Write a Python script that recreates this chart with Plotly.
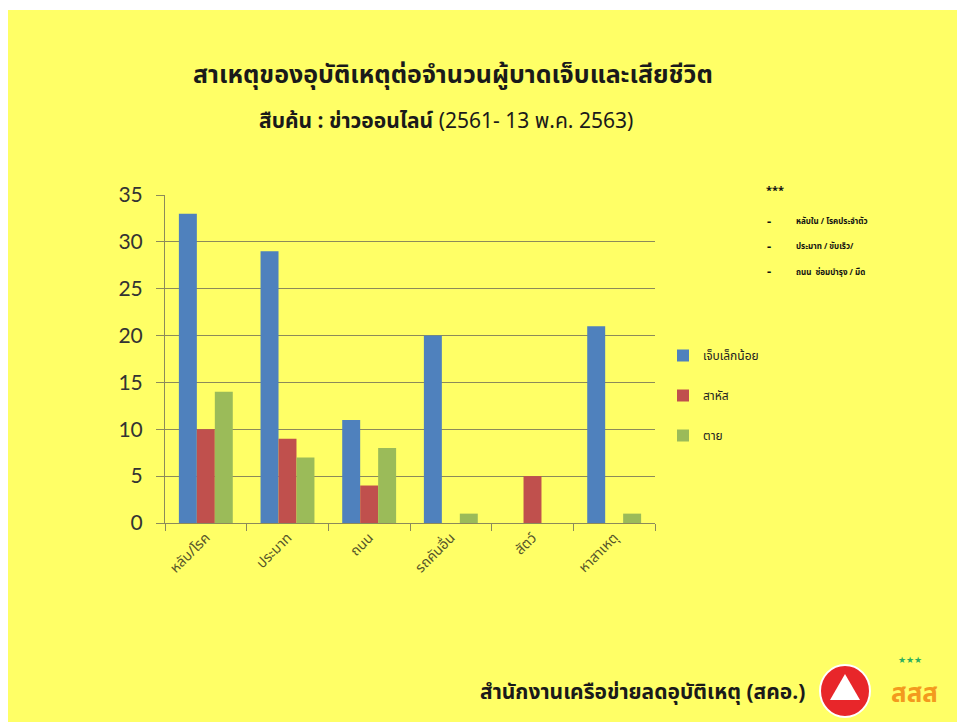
import plotly.graph_objects as go

categories = ["หลับ/โรค", "ประมาท", "ถนน", "รถคันอื่น", "สัตว์", "หาสาเหตุ"]
series_names = ["เจ็บเล็กน้อย", "สาหัส", "ตาย"]
minor_injury = [33, 29, 11, 20, 0, 21]
serious_injury = [10, 9, 4, 0, 5, 0]
deaths = [14, 7, 8, 1, 0, 1]
y_ticks = [0, 5, 10, 15, 20, 25, 30, 35]
notes = ["หลับใน / โรคประจำตัว", "ประมาท / ขับเร็ว/", "ถนน  ซ่อมบำรุง / มืด"]

colors = ["#4F81BD", "#C0504D", "#9BBB59"]
YELLOW = "#FFFF66"
GRID = "#8C8A5A"
FONT = "Noto Sans Thai, Noto Sans, Tahoma, sans-serif"

W, H = 957, 722
L, R, T, B = 165, 655, 195, 523  # plot area in page pixels
pw, ph = R - L, B - T

def px(x):
    return (x - L) / pw

def py(y):
    return (B - y) / ph

fig = go.Figure()
for i, (name, vals) in enumerate(zip(series_names, [minor_injury, serious_injury, deaths])):
    fig.add_trace(go.Bar(
        x=categories, y=vals, name=name, marker_color=colors[i],
        marker_line_width=0, legendgroup=name,
    ))

fig.update_layout(
    width=W, height=H,
    margin=dict(l=L, r=W - R, t=T, b=H - B, pad=0),
    paper_bgcolor="white",
    plot_bgcolor="rgba(0,0,0,0)",
    barmode="group", bargap=0.34, bargroupgap=0,
    font=dict(family=FONT, color="#333333"),
    showlegend=True,
    legend=dict(
        x=px(663), y=py(341), xanchor="left", yanchor="top",
        bgcolor="rgba(0,0,0,0)", font=dict(size=12, color="#222222"),
        tracegroupgap=21, itemwidth=30,
    ),
    yaxis=dict(
        range=[0, 35], tickvals=y_ticks, showgrid=True, gridcolor=GRID,
        gridwidth=1, showline=True, linecolor=GRID, linewidth=1,
        ticks="outside", ticklen=8, tickcolor=GRID, ticklabelstandoff=9,
        tickfont=dict(size=21, color="#333333", family="Lato, Liberation Sans, sans-serif"),
        zeroline=False, fixedrange=True,
    ),
    xaxis=dict(
        showline=True, linecolor=GRID, linewidth=1, ticks="outside",
        tickson="boundaries", ticklen=7, tickcolor=GRID, tickangle=-45,
        tickfont=dict(size=14, color="#55552A"), showgrid=False,
    ),
)

shapes = [
    dict(type="rect", xref="paper", yref="paper", x0=px(8), x1=px(W + 20),
         y0=py(H + 20), y1=py(10), fillcolor=YELLOW, line_width=0, layer="below"),
    # red logo circle
    dict(type="circle", xref="paper", yref="paper", x0=px(820), x1=px(870),
         y0=py(717), y1=py(665), fillcolor="#E8262A", line=dict(color="white", width=2),
         layer="above"),
    dict(type="path", xref="paper", yref="paper",
         path=f"M {px(845)} {py(674)} L {px(860)} {py(700)} L {px(830)} {py(700)} Z",
         fillcolor="white", line_width=0, layer="above"),
]
fig.update_layout(shapes=shapes)

ann = []
ann.append(dict(text="<b>สาเหตุของอุบัติเหตุต่อจำนวนผู้บาดเจ็บและเสียชีวิต</b>",
                x=px(453), y=py(75), xref="paper", yref="paper", showarrow=False,
                font=dict(size=25, color="#1a1a1a"), xanchor="center", yanchor="middle"))
ann.append(dict(text="<b>สืบค้น : ข่าวออนไลน์</b> (2561- 13 พ.ค. 2563)",
                x=px(446), y=py(122), xref="paper", yref="paper", showarrow=False,
                font=dict(size=21, color="#1a1a1a"), xanchor="center", yanchor="middle"))
ann.append(dict(text="<b>***</b>", x=px(764), y=py(190), xref="paper", yref="paper",
                showarrow=False, font=dict(size=11, color="#111111"), xanchor="left", yanchor="middle"))
for i, t in enumerate(notes):
    yy = 222 + 25 * i
    ann.append(dict(text="<b>-</b>", x=px(765), y=py(yy), xref="paper", yref="paper",
                    showarrow=False, font=dict(size=13, color="#111111"), xanchor="left", yanchor="middle"))
    ann.append(dict(text="<b>" + t + "</b>", x=px(794), y=py(yy), xref="paper", yref="paper",
                    showarrow=False, font=dict(size=8, color="#111111"), xanchor="left", yanchor="middle"))
ann.append(dict(text="<b>สำนักงานเครือข่ายลดอุบัติเหตุ (สคอ.)</b>", x=px(478), y=py(692),
                xref="paper", yref="paper", showarrow=False,
                font=dict(size=21, color="#1a1a1a"), xanchor="left", yanchor="middle"))
ann.append(dict(text="<b>สสส</b>", x=px(914), y=py(694), xref="paper", yref="paper",
                showarrow=False, font=dict(size=26, color="#F39A1E"), xanchor="center", yanchor="middle"))
ann.append(dict(text="★★★", x=px(910), y=py(660), xref="paper", yref="paper",
                showarrow=False, font=dict(size=9, color="#2EAE5E"), xanchor="center", yanchor="middle"))
fig.update_layout(annotations=ann)

fig.write_html(
    "out.html",
    config={"displayModeBar": False},
    post_script="document.body.style.margin='0px';document.body.style.overflow='hidden';",
)
